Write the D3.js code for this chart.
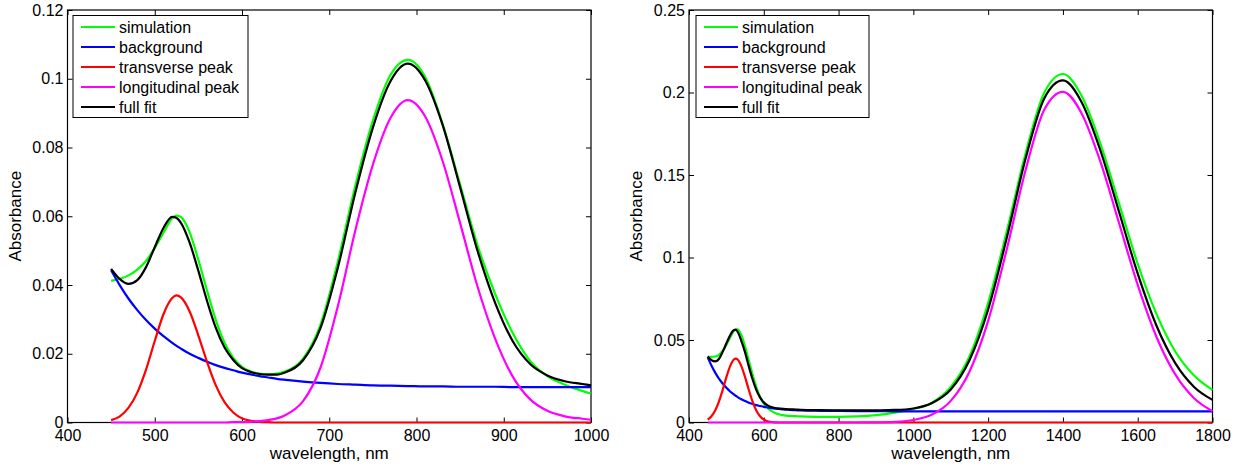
<!DOCTYPE html>
<html>
<head>
<meta charset="utf-8">
<script src="https://cdn.jsdelivr.net/npm/d3@7"></script>
<style>
  body { margin: 0; background: #fff; }
  svg { display: block; font-family: "Liberation Sans", Arial, Helvetica, sans-serif; }
</style>
</head>
<body>
<svg id="chart"></svg>
<script>
// ---- left panel (400-1000 nm) ----
const wlA = [450,460,470,480,490,500,510,520,525,530,540,550,560,570,580,590,600,610,620,630,640,650,
  670,690,710,730,750,770,790,810,830,850,870,890,910,930,950,970,990,1000];
const simA = [0.0412,0.0418,0.0428,0.0445,0.0470,0.0508,0.0552,0.0594,0.0602,0.0598,0.0553,0.0473,0.0383,0.0298,0.0232,0.0188,0.0162,0.0148,0.0142,0.0140,0.0142,0.0149,
  0.0186,0.0285,0.0470,0.0690,0.0878,0.1010,0.1055,0.1005,0.0868,0.0692,0.0515,0.0375,0.0262,0.0180,0.0135,0.0110,0.0092,0.0084];
const bgA = [0.0443,0.0399,0.0360,0.0327,0.0298,0.0273,0.0251,0.0232,0.0223,0.0215,0.0200,0.0188,0.0177,0.0167,0.0159,0.0152,0.0145,0.0140,0.0135,0.0131,0.0127,0.0124,
  0.0119,0.0115,0.0112,0.0110,0.0108,0.0107,0.0106,0.0105,0.0105,0.0104,0.0104,0.0104,0.0103,0.0103,0.0103,0.0103,0.0103,0.0103];
const transA = [0.0007,0.0018,0.0043,0.0087,0.0154,0.0237,0.0315,0.0362,0.0370,0.0364,0.0323,0.0253,0.0176,0.0108,0.0059,0.0029,0.0012,0.0005,0.0002,0.0001,0,0,
  0,0,0,0,0,0,0,0,0,0,0,0,0,0,0,0,0,0];
const longA = [0,0,0,0,0,0,0,0,0,0,0,0,0,0,0,0.0001,0.0001,0.0002,0.0004,0.0007,0.0012,0.0022,
  0.0062,0.0160,0.0340,0.0560,0.0750,0.0885,0.0938,0.0890,0.0760,0.0580,0.0395,0.0245,0.0135,0.0068,0.0034,0.0018,0.0011,0.0008];
const fitA = [0.0447,0.0417,0.0403,0.0414,0.0452,0.0510,0.0566,0.0598,0.0595,0.0581,0.0523,0.0441,0.0353,0.0275,0.0218,0.0182,0.0158,0.0147,0.0141,0.0139,0.0139,0.0146,
  0.0181,0.0275,0.0452,0.0670,0.0858,0.0992,0.1044,0.0995,0.0865,0.0684,0.0499,0.0349,0.0238,0.0171,0.0137,0.0120,0.0112,0.0108];
const xTicksA = [400,500,600,700,800,900,1000];
const yTicksA = [0,0.02,0.04,0.06,0.08,0.1,0.12];

// ---- right panel (400-1800 nm) ----
const wlB = [450,460,470,480,490,500,510,520,525,530,540,550,560,570,580,590,600,610,620,630,640,650,660,670,680,690,700,
  750,800,850,900,950,1000,1050,1100,1150,1200,1250,1300,1350,1400,1450,1500,1550,1600,1650,1700,1750,1800];
const simB = [0.0400,0.0398,0.0400,0.0410,0.0435,0.0470,0.0515,0.0555,0.0566,0.0565,0.0530,0.0460,0.0375,0.0290,0.0215,0.0155,0.0115,0.0088,0.0070,0.0058,0.0050,0.0045,0.0042,0.0040,0.0039,0.0038,0.0037,
  0.0034,0.0034,0.0037,0.0045,0.0060,0.0082,0.0120,0.0215,0.0400,0.0725,0.1160,0.1630,0.1998,0.2112,0.1980,0.1692,0.1328,0.0962,0.0658,0.0432,0.0287,0.0198];
const bgB = [0.0395,0.0345,0.0302,0.0266,0.0236,0.0210,0.0188,0.0170,0.0162,0.0154,0.0141,0.0130,0.0120,0.0112,0.0105,0.0100,0.0095,0.0091,0.0087,0.0084,0.0082,0.0080,0.0078,0.0076,0.0075,0.0074,0.0073,
  0.0071,0.0070,0.0069,0.0069,0.0068,0.0068,0.0068,0.0068,0.0068,0.0068,0.0068,0.0068,0.0068,0.0068,0.0068,0.0068,0.0068,0.0068,0.0068,0.0068,0.0068,0.0068];
const transB = [0.0018,0.0038,0.0073,0.0127,0.0197,0.0275,0.0342,0.0382,0.0387,0.0382,0.0342,0.0275,0.0197,0.0127,0.0073,0.0038,0.0018,0.0007,0.0003,0.0001,0,0,0,0,0,0,0,
  0,0,0,0,0,0,0,0,0,0,0,0,0,0,0,0,0,0,0,0,0,0];
const longB = [0,0,0,0,0,0,0,0,0,0,0,0,0,0,0,0,0,0,0,0,0,0,0,0,0,0,0,
  0,0,0,0.0001,0.0004,0.0015,0.0048,0.0131,0.0308,0.0616,0.1052,0.1529,0.1895,0.2004,0.1873,0.1582,0.1209,0.0834,0.0520,0.0293,0.0149,0.0069];
const fitB = [0.0400,0.0378,0.0370,0.0385,0.0428,0.0480,0.0528,0.0560,0.0561,0.0550,0.0495,0.0425,0.0340,0.0262,0.0198,0.0152,0.0122,0.0104,0.0094,0.0088,0.0085,0.0083,0.0081,0.0080,0.0079,0.0078,0.0077,
  0.0075,0.0074,0.0073,0.0074,0.0076,0.0085,0.0118,0.0200,0.0377,0.0685,0.1121,0.1598,0.1964,0.2073,0.1941,0.1650,0.1277,0.0902,0.0588,0.0361,0.0217,0.0137];
const xTicksB = [400,600,800,1000,1200,1400,1600,1800];
const yTicksB = [0,0.05,0.1,0.15,0.2,0.25];

const seriesNames = ["simulation", "background", "transverse peak", "longitudinal peak", "full fit"];
const seriesColors = ["#00ff00", "#0000ff", "#ff0000", "#ff00ff", "#000000"];

const width = 1252, height = 471;
const svg = d3.select("#chart")
  .attr("width", width)
  .attr("height", height)
  .attr("viewBox", [0, 0, width, height]);

svg.append("rect").attr("width", width).attr("height", height).attr("fill", "#fff");

const panel = (opt) => {
  const {left, right, top, bottom} = opt;
  const x = d3.scaleLinear().domain(opt.xDomain).range([left, right]);
  const y = d3.scaleLinear().domain(opt.yDomain).range([bottom, top]);
  const fmt = d3.format("~g");
  const g = svg.append("g");

  // frame with inward ticks on all four sides
  g.append("g")
    .attr("transform", `translate(0,${bottom})`)
    .call(d3.axisBottom(x).tickValues(opt.xTicks).tickFormat(fmt).tickSizeInner(-5).tickSizeOuter(0).tickPadding(7))
    .call(a => a.select(".domain").remove());
  g.append("g")
    .attr("transform", `translate(0,${top})`)
    .call(d3.axisTop(x).tickValues(opt.xTicks).tickFormat("").tickSizeInner(-5).tickSizeOuter(0))
    .call(a => a.select(".domain").remove());
  g.append("g")
    .attr("transform", `translate(${left},0)`)
    .call(d3.axisLeft(y).tickValues(opt.yTicks).tickFormat(fmt).tickSizeInner(-5).tickSizeOuter(0).tickPadding(4))
    .call(a => a.select(".domain").remove());
  g.append("g")
    .attr("transform", `translate(${right},0)`)
    .call(d3.axisRight(y).tickValues(opt.yTicks).tickFormat("").tickSizeInner(-5).tickSizeOuter(0))
    .call(a => a.select(".domain").remove());

  g.selectAll(".tick line").attr("stroke", "#000");
  g.selectAll(".tick text").attr("font-size", 16).attr("fill", "#000")
    .attr("font-family", "'Liberation Sans', Arial, sans-serif");

  g.append("rect")
    .attr("x", left).attr("y", top)
    .attr("width", right - left).attr("height", bottom - top)
    .attr("fill", "none").attr("stroke", "#000").attr("stroke-width", 1.2);

  // curves
  const line = d3.line()
    .x((d, i) => x(opt.wl[i]))
    .y(d => y(d))
    .curve(d3.curveMonotoneX);

  g.append("g")
    .selectAll("path")
    .data(opt.series)
    .join("path")
    .attr("d", d => line(d))
    .attr("fill", "none")
    .attr("stroke", (d, i) => seriesColors[i])
    .attr("stroke-width", 2.2)
    .attr("stroke-linejoin", "round");

  // axis labels
  g.append("text")
    .attr("x", (left + right) / 2)
    .attr("y", 459)
    .attr("text-anchor", "middle")
    .attr("font-size", 17)
    .text("wavelength, nm");
  g.append("text")
    .attr("transform", `translate(${opt.yLabelX},${(top + bottom) / 2}) rotate(-90)`)
    .attr("text-anchor", "middle")
    .attr("font-size", 17)
    .text("Absorbance");

  // legend
  const lg = g.append("g").attr("transform", `translate(${opt.legend[0]},${opt.legend[1]})`);
  lg.append("rect")
    .attr("width", opt.legend[2]).attr("height", 102)
    .attr("fill", "#fff").attr("stroke", "#000").attr("stroke-width", 1);
  const row = lg.selectAll("g.row")
    .data(seriesNames)
    .join("g")
    .attr("transform", (d, i) => `translate(0,${11.5 + i * 20})`);
  row.append("line")
    .attr("x1", 8).attr("x2", 42)
    .attr("stroke", (d, i) => seriesColors[i])
    .attr("stroke-width", 2.2);
  row.append("text")
    .attr("x", 46)
    .attr("dy", "0.35em")
    .attr("font-size", 16)
    .text(d => d);
};

panel({
  left: 67.5, right: 591, top: 10, bottom: 422.5,
  xDomain: [400, 1000], yDomain: [0, 0.12],
  xTicks: xTicksA, yTicks: yTicksA,
  wl: wlA, series: [simA, bgA, transA, longA, fitA],
  yLabelX: 21, legend: [73, 15.5, 175]
});

panel({
  left: 689, right: 1212.5, top: 10, bottom: 422.5,
  xDomain: [400, 1800], yDomain: [0, 0.25],
  xTicks: xTicksB, yTicks: yTicksB,
  wl: wlB, series: [simB, bgB, transB, longB, fitB],
  yLabelX: 642, legend: [696, 15.5, 173]
});
</script>
</body>
</html>
